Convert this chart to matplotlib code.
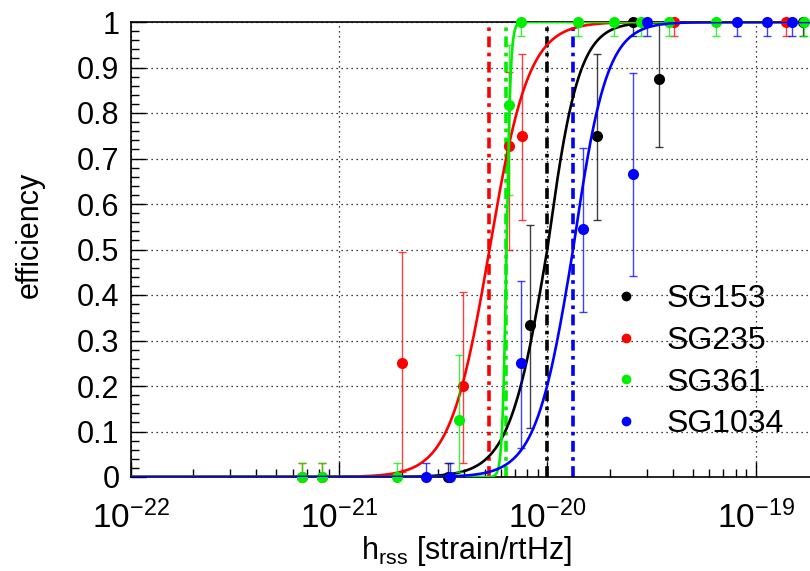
import numpy as np
import matplotlib
matplotlib.use("Agg")
import matplotlib.pyplot as plt
from matplotlib.lines import Line2D
from matplotlib.ticker import FixedLocator, NullFormatter

plt.rcParams['font.family'] = ['Liberation Sans', 'DejaVu Sans']
plt.rcParams['mathtext.fontset'] = 'custom'
plt.rcParams['mathtext.rm'] = 'Liberation Sans'
plt.rcParams['mathtext.it'] = 'Liberation Sans'

# ---------------- data ----------------
labels = ["SG153", "SG235", "SG361", "SG1034"]
colors = ["#000000", "#ff0000", "#00ee00", "#0000ff"]

sg153_h = [3.32e-21, 8.22e-21, 1.73e-20, 2.58e-20, 3.42e-20, 1.68e-19]
sg153_eff = [0.0, 0.333, 0.75, 1.0, 0.875, 1.0]
sg153_lo = [0.0, 0.108, 0.565, 0.97, 0.725, 0.97]
sg153_hi = [0.03, 0.554, 0.93, 1.0, 1.0, 1.0]

sg235_h = [6.62e-22, 8.26e-22, 2.0e-21, 3.93e-21, 6.52e-21, 7.52e-21, 4.04e-20, 1.39e-19]
sg235_eff = [0.0, 0.0, 0.25, 0.2, 0.727, 0.75, 1.0, 1.0]
sg235_lo = [0.0, 0.0, 0.01, 0.03, 0.5, 0.565, 0.97, 0.97]
sg235_hi = [0.03, 0.03, 0.494, 0.407, 0.89, 0.93, 1.0, 1.0]

sg361_h = [6.62e-22, 8.26e-22, 1.91e-21, 3.75e-21, 6.52e-21, 7.45e-21, 1.41e-20,
           2.08e-20, 2.81e-20, 3.82e-20, 6.43e-20, 1.71e-19]
sg361_eff = [0.0, 0.0, 0.0, 0.125, 0.818, 1.0, 1.0, 1.0, 1.0, 1.0, 1.0, 1.0]
sg361_lo = [0.0, 0.0, 0.0, 0.01, 0.62, 0.97, 0.97, 0.97, 0.97, 0.97, 0.97, 0.97]
sg361_hi = [0.03, 0.03, 0.03, 0.268, 0.95, 1.0, 1.0, 1.0, 1.0, 1.0, 1.0, 1.0]

sg1034_h = [2.61e-21, 3.40e-21, 7.45e-21, 1.49e-20, 2.58e-20, 3.01e-20, 8.09e-20, 1.13e-19, 1.50e-19]
sg1034_eff = [0.0, 0.0, 0.25, 0.545, 0.667, 1.0, 1.0, 1.0, 1.0]
sg1034_lo = [0.0, 0.0, 0.063, 0.362, 0.442, 0.97, 0.97, 0.97, 0.97]
sg1034_hi = [0.03, 0.03, 0.43, 0.723, 0.888, 1.0, 1.0, 1.0, 1.0]

# fit parameters: hrss50, slope below, slope above (log10 units)
fit_h50 = [1.0e-20, 5.28e-21, 6.37e-21, 1.33e-20]
fit_slo = [0.092, 0.095, 0.010, 0.090]
fit_shi = [0.076, 0.094, 0.010, 0.081]

x_ticks = [1e-22, 1e-21, 1e-20, 1e-19]
x_ticklabels = [r'$\mathregular{10^{-22}}$', r'$\mathregular{10^{-21}}$',
                r'$\mathregular{10^{-20}}$', r'$\mathregular{10^{-19}}$']
y_ticks = [0, 0.1, 0.2, 0.3, 0.4, 0.5, 0.6, 0.7, 0.8, 0.9, 1.0]
y_ticklabels = ["0", "0.1", "0.2", "0.3", "0.4", "0.5", "0.6", "0.7", "0.8", "0.9", "1"]

series = [
    (sg153_h, sg153_eff, sg153_lo, sg153_hi),
    (sg235_h, sg235_eff, sg235_lo, sg235_hi),
    (sg361_h, sg361_eff, sg361_lo, sg361_hi),
    (sg1034_h, sg1034_eff, sg1034_lo, sg1034_hi),
]

# ---------------- figure ----------------
W, H = 810, 571
fig = plt.figure(figsize=(W / 100, H / 100), dpi=100)
xmin, xmax = 1e-22, 2e-19
dec_px = 208.4
left_px, top_px, bot_px = 130.5, 22, 477
width_px = (np.log10(xmax) - np.log10(xmin)) * dec_px
ax = fig.add_axes([left_px / W, 1 - bot_px / H, width_px / W, (bot_px - top_px) / H])
ax.set_xscale('log')
ax.set_xlim(xmin, xmax)
ax.set_ylim(0, 1)

ax.grid(True, which='major', color='black', linestyle=(0, (1, 3)), linewidth=0.9)

xx = np.logspace(-22, np.log10(xmax), 2000)
lx = np.log10(xx)

for i, (h, e, lo, hi) in enumerate(series):
    c = colors[i]
    h = np.array(h); e = np.array(e); lo = np.array(lo); hi = np.array(hi)
    yerr = np.vstack([e - lo, hi - e])
    ax.errorbar(h, e, yerr=yerr, fmt='none', ecolor=c, elinewidth=1.0,
                capsize=3, capthick=1.0, alpha=0.75, zorder=3 + i * 0.1)
    ax.plot(h, e, 'o', color=c, markersize=8, markeredgewidth=0,
            zorder=3.02 + i * 0.1, clip_on=False)
    mu = np.log10(fit_h50[i])
    s = np.where(lx < mu, fit_slo[i], fit_shi[i])
    yy = 1.0 / (1.0 + np.exp(-(lx - mu) / s))
    ax.plot(xx, yy, '-', color=c, linewidth=1.9, zorder=3.05 + i * 0.1)
    ax.plot([fit_h50[i], fit_h50[i]], [0, 1], color=c, linewidth=2.6,
            linestyle=(0, (3, 1.5, 1, 1.5)), zorder=2.5)

ax.xaxis.set_major_locator(FixedLocator(x_ticks))
ax.set_xticklabels(x_ticklabels)
minors = [m * 10.0 ** k for k in range(-22, -18) for m in range(2, 10)]
ax.xaxis.set_minor_locator(FixedLocator(minors))
ax.xaxis.set_minor_formatter(NullFormatter())
ax.set_yticks(y_ticks)
ax.set_yticklabels(y_ticklabels)
ax.yaxis.set_minor_locator(FixedLocator(np.arange(0, 1.0001, 0.02)))

ax.tick_params(axis='both', which='major', direction='in', length=11, width=1.0,
               top=False, right=False)
ax.tick_params(axis='both', which='minor', direction='in', length=6, width=1.0,
               top=False, right=False)
ax.tick_params(axis='x', which='major', pad=17, labelsize=24)
ax.tick_params(axis='y', which='major', pad=8, labelsize=22)

for sp in ax.spines.values():
    sp.set_linewidth(1.2)

fig.text(466 / W, 1 - 551 / H, r'h$_{\mathregular{rss}}$ [strain/rtHz]', fontsize=22,
         ha='center', va='center')
fig.text(30 / W, 1 - 235 / H, 'efficiency', fontsize=22, rotation=90,
         ha='center', va='center')

handles = [Line2D([], [], linestyle='none', marker='o', color=c, markersize=7,
                  markeredgewidth=0) for c in colors]
leg = ax.legend(handles, labels, loc='upper left', frameon=False, fontsize=23,
                bbox_to_anchor=(594 / W, 1 - 268 / H), bbox_transform=fig.transFigure,
                handlelength=1.0, handletextpad=0.78, labelspacing=0.37, borderpad=0)

fig.savefig('out.png', dpi=100)
